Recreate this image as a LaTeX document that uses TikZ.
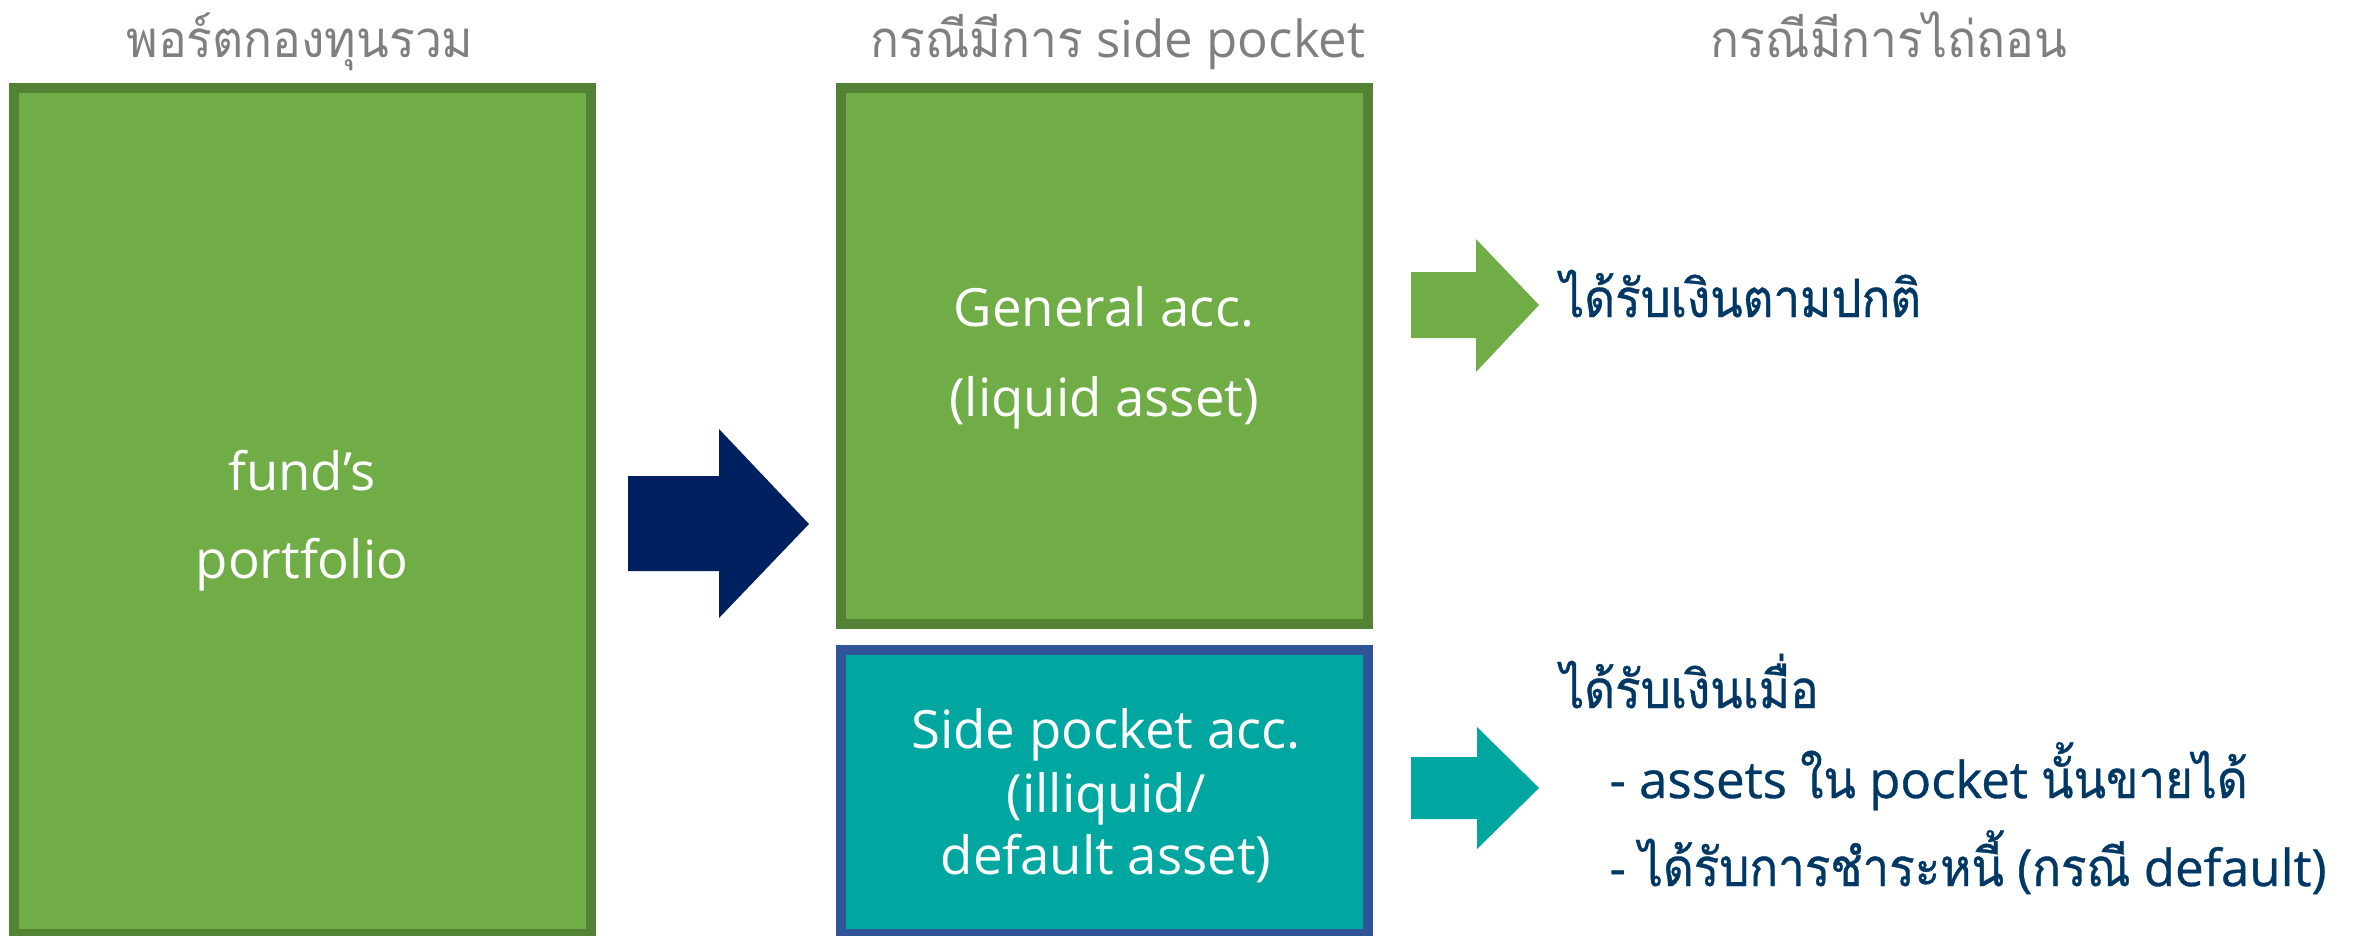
\documentclass[tikz,border=0pt]{standalone}
\usepackage{fontspec}
\setmainfont{Open Sans}
\newfontfamily\thaifont[Script=Thai,FakeStretch=0.94]{Loma}
\newfontfamily\thainote[Script=Thai,FakeStretch=0.9,FakeBold=0.7]{Loma}
\newfontfamily\latinnote[FakeBold=0.7]{Open Sans}
\definecolor{titlegray}{RGB}{127,127,127}
\definecolor{notenavy}{RGB}{0,56,101}
\definecolor{greenfill}{RGB}{112,173,71}
\definecolor{greenedge}{RGB}{84,130,53}
\definecolor{tealfill}{RGB}{0,166,160}
\definecolor{blueedge}{RGB}{47,85,151}
\definecolor{arrownavy}{RGB}{0,32,96}

\begin{document}
\begin{tikzpicture}[x=0.01cm,y=-0.01cm,
  boxtext/.style={text=white,font=\fontsize{15}{18}\selectfont,anchor=base},
  headtext/.style={text=titlegray,font=\fontsize{14.5}{18}\selectfont,anchor=base},
  notetext/.style={text=notenavy,font=\fontsize{14.5}{18}\selectfont\latinnote,anchor=base west}]
\useasboundingbox (0,0) rectangle (2369,935);

% column titles
\node[headtext] (tportfolio) at (300,57) {\thaifont พอร์ตกองทุนรวม};
\node[headtext] (tsidepocket) at (1118,57) {{\thaifont กรณีมีการ} side pocket};
\node[headtext] (tredeem) at (1889,57) {\thaifont กรณีมีการไถ่ถอน};

% accounts
\draw[line width=0.1cm,draw=greenedge,fill=greenfill] (14,88) rectangle (591,934);
\draw[line width=0.1cm,draw=greenedge,fill=greenfill] (841,88) rectangle (1368,624);
\draw[line width=0.1cm,draw=blueedge,fill=tealfill] (841,650) rectangle (1368,934);

\node[boxtext] (fund) at (302,490) {fund’s};
\node[boxtext] (portfolio) at (302,578) {portfolio};
\node[boxtext] (general) at (1104,326) {General acc.};
\node[boxtext] (liquid) at (1104,416) {(liquid asset)};
\node[boxtext] (sidepocket) at (1106,748) {Side pocket acc.};
\node[boxtext] (illiquid) at (1106,812) {(illiquid/};
\node[boxtext] (default) at (1106,874) {default asset)};

% block arrows
\fill[arrownavy] (628,476) -- (719,476) -- (719,429) -- (809,524) -- (719,618) -- (719,571) -- (628,571) -- cycle;
\fill[greenfill] (1411,272) -- (1476,272) -- (1476,239) -- (1539,305) -- (1476,372) -- (1476,338) -- (1411,338) -- cycle;
\fill[tealfill] (1411,757) -- (1477,757) -- (1477,727) -- (1539,788) -- (1477,849) -- (1477,819) -- (1411,819) -- cycle;

% payouts
\node[notetext] (normal) at (1548,317) {\fontsize{15}{18}\thainote ได้รับเงินตามปกติ};
\node[notetext] (when) at (1548,708) {\fontsize{15}{18}\thainote ได้รับเงินเมื่อ};
\node[notetext] (sold) at (1597,798) {- assets {\fontsize{15}{18}\thainote ใน} pocket {\fontsize{15}{18}\thainote นั้นขายได้}};
\node[notetext] (repaid) at (1597,886) {- {\fontsize{15}{18}\thainote ได้รับการชำระหนี้} ({\fontsize{15}{18}\thainote กรณี} default)};
\end{tikzpicture}
\end{document}
